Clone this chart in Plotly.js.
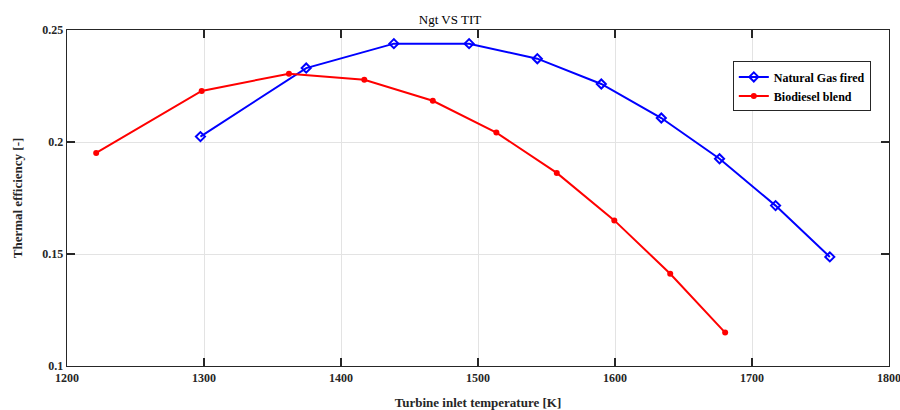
<!DOCTYPE html>
<html>
<head>
<meta charset="utf-8">
<script src="https://cdn.plot.ly/plotly-3.0.1.min.js"></script>
<style>html,body{margin:0;padding:0;background:#fff;}#chart{width:900px;height:410px;}</style>
</head>
<body>
<div id="chart"></div>
<script>
const gasTIT = [1297.4, 1374.6, 1438.6, 1493.5, 1543.3, 1590.0, 1633.8, 1676.3, 1717.2, 1756.8];
const gasEff = [0.2024, 0.2330, 0.2439, 0.2439, 0.2372, 0.2259, 0.2107, 0.1925, 0.1716, 0.1487];
const bioTIT = [1221.3, 1298.3, 1362.0, 1417.0, 1467.0, 1513.4, 1557.5, 1599.5, 1640.3, 1680.4];
const bioEff = [0.1951, 0.2228, 0.2305, 0.2278, 0.2184, 0.2042, 0.1862, 0.1650, 0.1412, 0.1149];
const xTicks = [1200, 1300, 1400, 1500, 1600, 1700, 1800];
const yTicks = [0.1, 0.15, 0.2, 0.25];
const yTickText = ['0.1', '0.15', '0.2', '0.25'];

const serif = "'Liberation Serif'";
const traces = [
  {x: gasTIT, y: gasEff, name: 'Natural Gas fired', type: 'scatter', mode: 'lines+markers',
   line: {color: '#0000ff', width: 2},
   marker: {symbol: 'diamond-open', size: 7, color: '#0000ff', line: {width: 2, color: '#0000ff'}}},
  {x: bioTIT, y: bioEff, name: 'Biodiesel blend', type: 'scatter', mode: 'lines+markers',
   line: {color: '#ff0000', width: 2},
   marker: {symbol: 'circle', size: 6, color: '#ff0000'}}
];
const axisCommon = {
  showline: true, linecolor: '#262626', linewidth: 1.3, mirror: 'ticks',
  ticks: 'inside', ticklen: 8, tickcolor: '#262626', tickwidth: 1.3,
  showgrid: true, gridcolor: '#e3e3e3', gridwidth: 1, zeroline: false,
  ticklabeloverflow: 'allow',
  tickfont: {family: serif, size: 12, color: '#262626', weight: 'bold'}
};
const layout = {
  width: 900, height: 410,
  margin: {l: 66.5, r: 10.7, t: 30.3, b: 43.7},
  paper_bgcolor: '#ffffff', plot_bgcolor: '#ffffff',
  title: {text: 'Ngt VS TIT', font: {family: serif, size: 13, color: '#000'}, x: 0.5, xanchor: 'center', y: 0.952, yanchor: 'middle'},
  xaxis: Object.assign({}, axisCommon, {range: [1200, 1800], tickvals: xTicks,
    title: {text: '<b>Turbine inlet temperature [K]</b>', font: {family: serif, size: 13, color: '#262626'}, standoff: 14}}),
  yaxis: Object.assign({}, axisCommon, {range: [0.1, 0.25], tickvals: yTicks, ticktext: yTickText,
    title: {text: '<b>Thermal efficiency [-]</b>', font: {family: serif, size: 13, color: '#262626'}, standoff: 16}}),
  showlegend: true,
  legend: {x: 0.810, y: 0.9065, xanchor: 'left', yanchor: 'top', bgcolor: '#ffffff',
    bordercolor: '#262626', borderwidth: 1,
    font: {family: serif, size: 12, color: '#000', weight: 'bold'},
    tracegroupgap: 0, itemwidth: 30}
};
Plotly.newPlot('chart', traces, layout, {staticPlot: true, displayModeBar: false});
</script>
</body>
</html>
